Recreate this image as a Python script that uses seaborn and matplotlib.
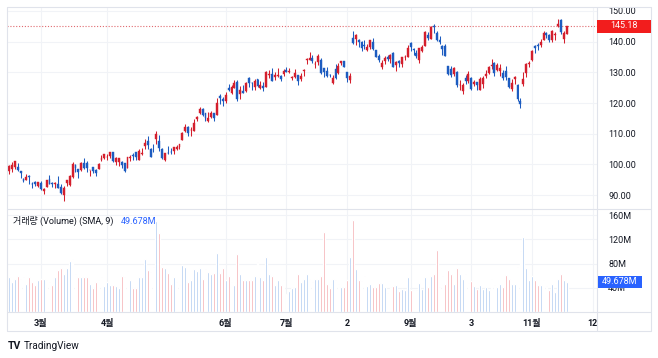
import numpy as np
import pandas as pd
import matplotlib
matplotlib.use("Agg")
import matplotlib.pyplot as plt
import seaborn as sns
from matplotlib.patches import Rectangle
from matplotlib.lines import Line2D

# ---------------- data (daily bars, Feb 13 .. Nov 17) ----------------
opens = [97.85, 98.41, 99.09, 99.21, 97.80, 95.34, 95.10, 96.12, 93.53, 94.28, 93.08,
         93.87, 91.41, 92.74, 95.19, 93.87, 93.60, 93.68, 92.67, 89.97, 93.83, 93.22, 96.06, 99.79, 98.41, 98.14, 100.45, 100.43, 98.07, 99.07, 98.11, 98.69, 101.55, 102.16,
         102.30, 102.75, 103.91, 100.75, 100.96, 100.80, 100.40, 98.95, 102.07, 103.16, 103.95, 101.58, 103.53, 106.10, 107.66, 104.91, 105.04, 108.16, 107.73,
         104.95, 101.47, 103.74, 104.04, 104.27, 105.04, 105.62, 108.10, 111.03, 112.16, 111.15, 111.05, 114.89, 116.69, 118.16, 116.77, 114.27, 115.35, 116.63, 116.04, 122.37, 121.45,
         120.69, 124.92, 123.36, 125.07, 127.01, 123.01, 124.08, 124.02, 128.12, 126.70, 125.21, 127.71, 124.97, 125.64, 125.31, 129.11, 129.33, 128.63, 128.94, 128.77, 129.47,
         130.82, 130.24, 128.25, 128.59, 129.07, 127.75, 130.31, 134.04, 134.06, 134.56, 132.71, 133.39, 134.07, 131.34, 130.31, 129.31, 126.51, 131.00, 129.69, 133.20,
         133.55, 130.15, 127.48, 141.06, 140.99, 140.62, 139.97, 139.07, 137.40, 138.30, 140.05, 137.19, 135.46, 131.62, 133.74, 135.08, 134.50, 136.40, 132.47, 133.78, 132.74, 134.93, 135.06,
         139.46, 137.73, 136.32, 133.90, 136.86, 138.75, 142.32, 140.95, 145.08, 142.69, 140.48, 138.70, 138.55, 131.94, 131.11, 129.36, 130.12, 125.76, 124.04, 128.20,
         127.28, 128.06, 126.06, 126.71, 124.16, 126.22, 128.82, 129.74, 132.17, 132.98, 130.69, 130.39, 129.90, 130.57, 128.05, 124.63, 127.74, 126.04, 120.63, 126.20, 129.72, 132.75,
         133.96, 138.73, 138.99, 138.76, 140.55, 142.97, 142.02, 140.46, 142.08, 145.00, 147.06, 140.91, 142.66]

highs = [99.68, 100.92, 101.17, 100.49, 97.94, 95.61, 97.01, 96.43, 94.14, 94.78, 94.36,
         94.68, 92.23, 95.00, 96.55, 94.27, 94.17, 96.21, 93.57, 93.14, 95.00, 96.67, 100.66, 100.04, 98.48, 100.85, 102.10, 101.06, 98.30, 99.34, 98.44, 100.42, 103.04, 103.49,
         103.29, 104.20, 103.91, 102.38, 102.20, 101.00, 100.51, 102.57, 103.20, 103.73, 104.20, 105.12, 105.25, 108.15, 109.23, 105.45, 106.62, 110.86, 109.48,
         105.23, 103.90, 105.96, 105.39, 105.76, 106.30, 106.62, 110.67, 113.28, 112.64, 112.29, 114.79, 115.83, 118.60, 118.31, 116.77, 117.14, 117.34, 116.87, 121.50, 122.92, 122.04,
         123.49, 126.38, 125.80, 127.40, 127.37, 125.63, 125.80, 126.78, 128.41, 126.95, 127.69, 127.90, 127.25, 126.73, 130.33, 130.84, 131.49, 130.09, 131.48, 129.26, 131.25,
         131.85, 131.40, 128.73, 130.97, 129.28, 129.77, 131.26, 134.67, 136.65, 135.62, 133.86, 135.99, 134.79, 131.37, 131.66, 129.58, 129.08, 132.63, 133.01, 133.87,
         133.69, 130.23, 129.84, 143.63, 142.54, 140.84, 140.32, 140.41, 139.33, 140.59, 141.28, 137.27, 136.09, 134.07, 135.19, 135.65, 135.95, 136.78, 133.87, 133.95, 134.99, 135.68, 138.79,
         139.96, 137.80, 137.45, 138.03, 138.85, 143.62, 143.00, 144.98, 145.86, 143.57, 141.75, 138.84, 139.37, 132.24, 132.03, 131.78, 130.39, 127.48, 126.58, 129.15,
         130.47, 128.52, 127.36, 126.73, 128.45, 128.79, 130.74, 132.05, 134.48, 133.31, 133.07, 132.58, 130.67, 132.24, 128.17, 127.88, 128.80, 126.34, 121.64, 130.02, 133.00, 133.57,
         137.35, 138.81, 139.49, 140.73, 143.37, 143.12, 142.65, 143.65, 143.23, 147.26, 147.29, 143.32, 145.23]

lows = [96.91, 97.52, 98.45, 98.00, 95.65, 94.27, 94.80, 93.67, 92.32, 93.14, 92.78,
        91.59, 90.39, 92.66, 93.74, 92.70, 92.18, 92.18, 90.25, 88.12, 92.87, 93.07, 95.61, 97.61, 95.70, 98.00, 98.61, 97.62, 96.40, 97.08, 96.29, 98.56, 101.01, 101.95,
        101.43, 102.11, 100.75, 99.80, 99.57, 99.01, 97.71, 98.71, 101.11, 101.59, 101.52, 101.39, 103.21, 105.08, 105.07, 102.45, 104.10, 106.80, 104.33,
        101.82, 101.15, 103.28, 103.31, 103.55, 104.70, 105.12, 108.05, 110.49, 109.32, 109.25, 111.03, 114.22, 116.34, 115.70, 114.25, 113.78, 115.02, 114.31, 116.02, 119.86, 119.17,
        119.93, 124.02, 123.03, 125.00, 120.63, 121.21, 123.19, 123.53, 125.18, 124.12, 124.32, 125.30, 124.50, 123.85, 125.14, 128.28, 127.10, 127.55, 128.44, 127.26, 128.95,
        130.07, 129.64, 127.37, 128.13, 125.92, 127.35, 128.83, 132.71, 134.06, 133.21, 131.35, 132.53, 129.33, 128.42, 128.35, 128.53, 126.11, 127.79, 129.33, 132.38,
        131.62, 126.82, 126.41, 139.32, 138.95, 138.42, 137.10, 137.49, 137.00, 137.75, 137.23, 135.01, 133.53, 131.15, 132.71, 133.73, 133.22, 131.83, 130.58, 131.85, 131.80, 133.92, 135.00,
        136.88, 135.82, 134.61, 133.16, 136.75, 138.64, 140.61, 140.87, 142.95, 140.09, 139.22, 135.56, 135.20, 129.31, 128.52, 128.77, 125.28, 124.13, 123.04, 126.32,
        126.54, 124.25, 125.68, 124.33, 124.13, 124.76, 128.05, 129.61, 131.23, 128.95, 130.43, 128.71, 127.51, 127.47, 124.97, 123.98, 126.34, 120.79, 118.35, 125.52, 128.56, 131.71,
        133.71, 136.47, 137.45, 138.36, 140.50, 141.22, 139.84, 139.91, 140.67, 144.68, 142.59, 139.52, 142.54]

closes = [99.54, 99.70, 101.16, 98.15, 97.20, 94.58, 95.79, 95.82, 93.50, 93.76, 94.23,
          92.17, 92.13, 94.90, 93.75, 93.55, 93.92, 92.25, 90.73, 92.43, 94.88, 96.20, 100.04, 98.95, 97.71, 100.61, 98.70, 98.71, 98.13, 98.04, 97.24, 100.25, 102.00, 103.29,
          102.41, 103.95, 101.10, 102.06, 102.17, 99.92, 97.83, 102.40, 102.51, 102.74, 102.30, 104.30, 103.81, 106.96, 106.21, 102.57, 104.98, 109.82, 105.45,
          102.05, 103.63, 103.65, 104.00, 105.66, 105.83, 106.62, 110.19, 112.18, 110.26, 111.20, 113.40, 115.50, 118.15, 116.25, 115.01, 114.99, 116.75, 115.00, 120.11, 121.66, 120.58,
          122.77, 124.25, 125.30, 126.61, 121.23, 124.25, 123.43, 126.57, 126.66, 126.42, 127.11, 125.49, 125.78, 124.83, 130.15, 129.33, 127.33, 129.18, 129.04, 127.90, 130.36,
          130.22, 130.38, 128.36, 129.78, 127.13, 128.78, 130.80, 134.30, 134.68, 133.56, 132.83, 135.36, 129.96, 130.00, 128.80, 129.13, 128.15, 128.25, 132.21, 133.68,
          131.69, 128.21, 128.91, 139.57, 142.22, 139.94, 137.85, 138.56, 138.41, 140.57, 137.67, 135.07, 133.98, 133.22, 134.68, 134.25, 135.52, 131.84, 133.26, 133.14, 134.91, 135.07, 138.01,
          138.12, 137.27, 135.36, 137.85, 138.23, 143.10, 141.23, 144.85, 144.72, 140.39, 139.98, 137.63, 135.29, 129.33, 129.12, 131.27, 125.98, 125.98, 125.98, 127.12,
          129.46, 124.72, 127.00, 125.96, 127.96, 128.26, 129.48, 131.83, 132.33, 129.79, 132.55, 131.47, 128.13, 128.40, 125.17, 126.56, 128.56, 121.39, 119.57, 127.74, 132.71, 133.09,
          137.00, 138.07, 138.60, 139.74, 142.71, 142.08, 140.60, 143.56, 142.59, 145.80, 143.20, 142.83, 145.18]

volumes_m = [57, 49, 55, 60, 55, 58, 47, 57, 49, 45,
             52, 55, 55, 52, 49, 45, 57, 70, 72, 62,
             72, 85, 87, 63, 57, 57, 57, 57, 47, 39,
             50, 52, 57, 43, 49, 45, 45, 43, 40, 60,
             57, 68, 52, 39, 39, 57, 57, 88, 70, 66,
             74, 150, 130, 74, 72, 65, 46, 57, 49, 45,
             78, 74, 49, 53, 71, 67, 72, 55, 71, 66,
             63, 65, 97, 64, 72, 53, 60, 49, 45, 95,
             63, 52, 52, 52, 52, 60, 83, 57, 52, 90,
             63, 60, 45, 52, 45, 53, 30, 35, 39, 41,
             62, 50, 54, 62, 54, 49, 55, 55, 60, 132,
             46, 40,
             54, 52, 46, 42, 42, 52, 90, 152, 71, 52,
             51, 59, 43, 46, 42, 42, 48, 48, 41, 32,
             42, 43, 44, 35, 38, 37, 58, 37, 37, 37,
             48, 38, 57, 42, 60, 62, 102, 42, 60, 46,
             70, 62, 46, 72, 63, 54, 62, 48, 51, 43,
             38, 45, 38, 42, 37, 54, 44, 41, 47, 42,
             61, 55, 47, 46, 74, 100, 124, 72, 52, 60,
             52, 44, 45, 53, 43, 37, 47, 33, 54, 62,
             52, 49.678]

tick_bar_index = [11, 34, 75, 96, 117, 139, 160, 181, 202]
tick_labels = ["3월", "4월", "6월", "7월", "2", "9월", "3", "11월", "12"]
price_ticks = [90, 100, 110, 120, 130, 140, 150]
volume_ticks = [40, 80, 120, 160]
last_price = 145.18
last_volume_text = "49.678M"
volume_title = "거래량 (Volume) (SMA, 9)"

# ---------------- styling ----------------
sns.set_theme(style="white")
plt.rcParams['font.family'] = ['Roboto', 'Noto Sans CJK KR', 'DejaVu Sans']
plt.rcParams['axes.unicode_minus'] = False

UP = "#d41f2d"      # rising candle (red)
DOWN = "#1d5cc0"    # falling candle (blue)
VOL_UP = "#a4c3ee"
VOL_DOWN = "#f2a0a5"
TXT = "#131722"
GRID = "#f1f3f7"
FRAME = "#e0e3eb"
FS = 6.5

W, H = 658, 358
fig = plt.figure(figsize=(W / 100, H / 100), dpi=100)
fig.patch.set_facecolor("white")


def rect(x0, y0, x1, y1):
    return [x0 / W, 1 - y1 / H, (x1 - x0) / W, (y1 - y0) / H]


ax_p = fig.add_axes(rect(7, 7, 597, 209))
ax_v = fig.add_axes(rect(7, 209, 597, 312), sharex=ax_p)

df = pd.DataFrame({"open": opens, "high": highs, "low": lows,
                   "close": closes, "volume": volumes_m})
df["idx"] = np.arange(len(df))
df["dir"] = np.where(df["close"] >= df["open"], "up", "down")

# ---------------- price panel ----------------
ccol = [UP if d == "up" else DOWN for d in df["dir"]]
ax_p.vlines(df["idx"], df["low"], df["high"], colors=ccol, linewidth=0.75, zorder=3)
body = (df["close"] - df["open"]).to_numpy()
ax_p.bar(df["idx"], body, bottom=df["open"], width=0.66, color=ccol,
         edgecolor=ccol, linewidth=0.3, zorder=4)

ax_p.axhline(last_price, color="#e06a6f", linestyle=(0, (1, 1.6)), linewidth=0.8, zorder=2)

ax_p.set_xlim(-0.7, 203.5)
ax_p.set_ylim(85.5, 151.3)
ax_p.yaxis.tick_right()
ax_p.set_yticks(price_ticks)
ax_p.set_yticklabels([f"{v:.2f}" for v in price_ticks])
ax_p.tick_params(axis="y", length=0, pad=8, labelsize=FS, labelcolor=TXT)
ax_p.tick_params(axis="x", length=0, labelbottom=False)
ax_p.set_xticks(tick_bar_index)
ax_p.grid(True, color=GRID, linewidth=0.8)
ax_p.set_axisbelow(True)
for s in ax_p.spines.values():
    s.set_visible(False)

# ---------------- volume panel ----------------
sns.barplot(data=df, x="idx", y="volume", hue="dir",
            palette={"up": VOL_UP, "down": VOL_DOWN}, native_scale=True,
            width=0.62, dodge=False, errorbar=None, legend=False,
            saturation=1, ax=ax_v, zorder=3)
ax_v.set_xlim(-0.7, 203.5)
ax_v.set_ylim(0, 170)
ax_v.yaxis.tick_right()
ax_v.set_yticks(volume_ticks)
ax_v.set_yticklabels([f"{v}M" for v in volume_ticks])
ax_v.tick_params(axis="y", length=0, pad=8, labelsize=FS, labelcolor=TXT)
ax_v.set_xticks(tick_bar_index)
ax_v.set_xticklabels(tick_labels, fontweight="bold")
ax_v.tick_params(axis="x", length=0, pad=5, labelsize=FS, labelcolor=TXT)
ax_v.set_xlabel("")
ax_v.set_ylabel("")
ax_v.grid(True, color=GRID, linewidth=0.8)
ax_v.set_axisbelow(True)
for s in ax_v.spines.values():
    s.set_visible(False)

t1 = fig.text(13 / W, 1 - 221 / H, volume_title, fontsize=FS, color=TXT,
              va="center", ha="left")
ax_v.annotate(last_volume_text, xy=(1, 0.5), xycoords=t1, xytext=(5, 0),
              textcoords="offset points", va="center", ha="left",
              fontsize=FS, color="#2962ff")

# ---------------- frame lines ----------------
def fline(xs, ys):
    fig.add_artist(Line2D([x / W for x in xs], [1 - y / H for y in ys],
                          color=FRAME, linewidth=0.8, transform=fig.transFigure))


fline([7, 651, 651, 7, 7], [7, 7, 331, 331, 7])
fline([597, 597], [7, 331])
fline([7, 651], [209, 209])
fline([7, 651], [312, 312])

# ---------------- last-value labels on scales ----------------
fig.add_artist(Rectangle((597 / W, 1 - 32.5 / H), 54 / W, 13 / H,
                         transform=fig.transFigure, facecolor="#f21d1d",
                         edgecolor="none", zorder=10))
fig.text(624 / W, 1 - 26 / H, f"{last_price:.2f}", color="white", fontsize=FS,
         ha="center", va="center", zorder=11)
fig.add_artist(Rectangle((598 / W, 1 - 287.5 / H), 44 / W, 12 / H,
                         transform=fig.transFigure, facecolor="#2962ff",
                         edgecolor="none", zorder=10))
fig.text(620 / W, 1 - 281.5 / H, last_volume_text, color="white", fontsize=FS,
         ha="center", va="center", zorder=11)

# ---------------- TradingView brand ----------------
fig.text(8 / W, 1 - 346 / H, "TV", fontsize=7.5, fontweight="bold", color=TXT,
         ha="left", va="center")
fig.text(24 / W, 1 - 346 / H, "TradingView", fontsize=7.2, color=TXT,
         ha="left", va="center")

fig.savefig("out.png", dpi=100, facecolor="white")
